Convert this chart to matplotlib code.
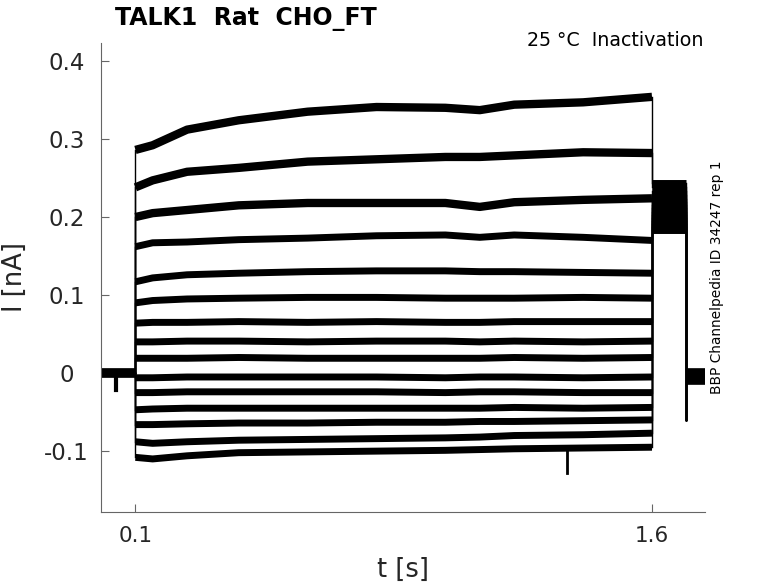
"""Inactivation current traces, TALK1 rat, CHO_FT."""

import numpy as np
import matplotlib
matplotlib.use("Agg")
import matplotlib.pyplot as plt

# Holding period before the step (s, nA)
BASE_T = [0.0, 0.100]
BASE_I = [0.0, 0.0]
DIP_T = 0.045
DIP_I = -0.022

# Sample times along the step (s)
PULSE_T = [0.10, 0.15, 0.25, 0.40, 0.60, 0.80, 1.00, 1.10, 1.20, 1.40, 1.60]

# Current during the step for each trace (nA), read at PULSE_T
TRACES = [
    [0.286, 0.292, 0.312, 0.324, 0.335, 0.341, 0.340, 0.337, 0.344, 0.347, 0.354],
    [0.238, 0.247, 0.258, 0.263, 0.271, 0.274, 0.277, 0.277, 0.279, 0.283, 0.282],
    [0.200, 0.205, 0.209, 0.215, 0.218, 0.218, 0.218, 0.213, 0.219, 0.222, 0.224],
    [0.162, 0.167, 0.168, 0.171, 0.173, 0.176, 0.177, 0.174, 0.177, 0.174, 0.170],
    [0.117, 0.122, 0.126, 0.128, 0.130, 0.131, 0.131, 0.130, 0.130, 0.129, 0.128],
    [0.090, 0.093, 0.095, 0.096, 0.097, 0.097, 0.096, 0.096, 0.096, 0.097, 0.096],
    [0.064, 0.065, 0.065, 0.066, 0.065, 0.066, 0.065, 0.065, 0.066, 0.066, 0.066],
    [0.040, 0.040, 0.041, 0.041, 0.040, 0.041, 0.041, 0.040, 0.041, 0.040, 0.041],
    [0.019, 0.019, 0.019, 0.020, 0.019, 0.019, 0.019, 0.019, 0.020, 0.019, 0.020],
    [-0.006, -0.006, -0.005, -0.005, -0.005, -0.005, -0.006, -0.005, -0.005, -0.006, -0.005],
    [-0.025, -0.025, -0.024, -0.024, -0.024, -0.024, -0.025, -0.024, -0.024, -0.025, -0.025],
    [-0.047, -0.046, -0.045, -0.045, -0.045, -0.045, -0.045, -0.045, -0.044, -0.045, -0.044],
    [-0.066, -0.066, -0.065, -0.064, -0.064, -0.063, -0.063, -0.062, -0.062, -0.061, -0.060],
    [-0.088, -0.090, -0.088, -0.086, -0.085, -0.084, -0.083, -0.082, -0.080, -0.079, -0.077],
    [-0.108, -0.110, -0.106, -0.102, -0.101, -0.100, -0.099, -0.098, -0.097, -0.096, -0.095],
]

# Short downward spike on the lowest trace
SPIKE_T = 1.353
SPIKE_I = [-0.097, -0.128]

# Tail step after 1.6 s, one level per trace (nA)
TAIL_T = [1.60, 1.70]
TAIL_I = [0.243, 0.238, 0.233, 0.228, 0.223, 0.219, 0.215, 0.211, 0.207,
          0.203, 0.199, 0.195, 0.191, 0.187, 0.183]

# Return to holding potential
POST_T = [1.700, 1.754]
POST_I = -0.004
POST_SPIKE_I = -0.060

fig = plt.figure(figsize=(7.78, 5.83), dpi=100)
ax = fig.add_axes([0.1298, 0.1218, 0.7764, 0.8044])

# noisy traces are thick bands; the voltage-step jumps are thin
band = dict(color="black", solid_joinstyle="round", solid_capstyle="butt")
for k, (trace, tail) in enumerate(zip(TRACES, TAIL_I)):
    lw = 6.0 if k < 3 else 5.0
    ax.plot(PULSE_T, trace, lw=lw, **band)
    ax.plot(TAIL_T, [tail, tail], lw=5.0, **band)
    ax.plot([PULSE_T[0], PULSE_T[0]], [BASE_I[-1], trace[0]], color="black", lw=1.0)
    ax.plot([TAIL_T[0], TAIL_T[0]], [trace[-1], tail], color="black", lw=1.0)
    ax.plot([POST_T[0], POST_T[0]], [tail, POST_SPIKE_I], color="black", lw=1.0)

ax.plot(BASE_T, BASE_I, lw=7.0, **band)
ax.plot([DIP_T, DIP_T], [BASE_I[0], DIP_I], color="black", lw=3.0)
ax.plot(POST_T, [POST_I, POST_I], lw=12.0, **band)
ax.plot([SPIKE_T, SPIKE_T], SPIKE_I, color="black", lw=2.0)

ax.set_xlim(0, 1.754)
ax.set_ylim(-0.178, 0.423)
ax.set_xticks([0.1, 1.6])
ax.set_xticklabels(["0.1", "1.6"])
ax.set_yticks([-0.1, 0, 0.1, 0.2, 0.3, 0.4])
ax.set_yticklabels(["-0.1", "0", "0.1", "0.2", "0.3", "0.4"])

for side in ["top", "right"]:
    ax.spines[side].set_visible(False)
for side in ["left", "bottom"]:
    ax.spines[side].set_color("#666666")
    ax.spines[side].set_linewidth(0.8)
ax.tick_params(direction="in", length=6, width=0.8, color="#666666",
               labelsize=16.5, labelcolor="#262626")
ax.tick_params(axis="x", pad=10, labelsize=15.5)
ax.tick_params(axis="y", pad=25)
for lab in ax.get_yticklabels():
    lab.set_horizontalalignment("center")

ax.set_xlabel("t [s]", fontsize=18.5, color="#262626", labelpad=8)
ax.set_ylabel("I [nA]", fontsize=18.5, color="#262626")
ax.yaxis.set_label_coords(-0.121, 0.501)

fig.text(0.148, 0.967, "TALK1  Rat  CHO_FT", fontsize=17, fontweight="bold",
         va="center", ha="left")
fig.text(0.904, 0.930, "25 °C  Inactivation", fontsize=13.7, va="center", ha="right")
fig.text(0.921, 0.524, "BBP Channelpedia ID 34247 rep 1", fontsize=9.9,
         rotation=90, va="center", ha="center")

fig.savefig("out.png", dpi=100)
